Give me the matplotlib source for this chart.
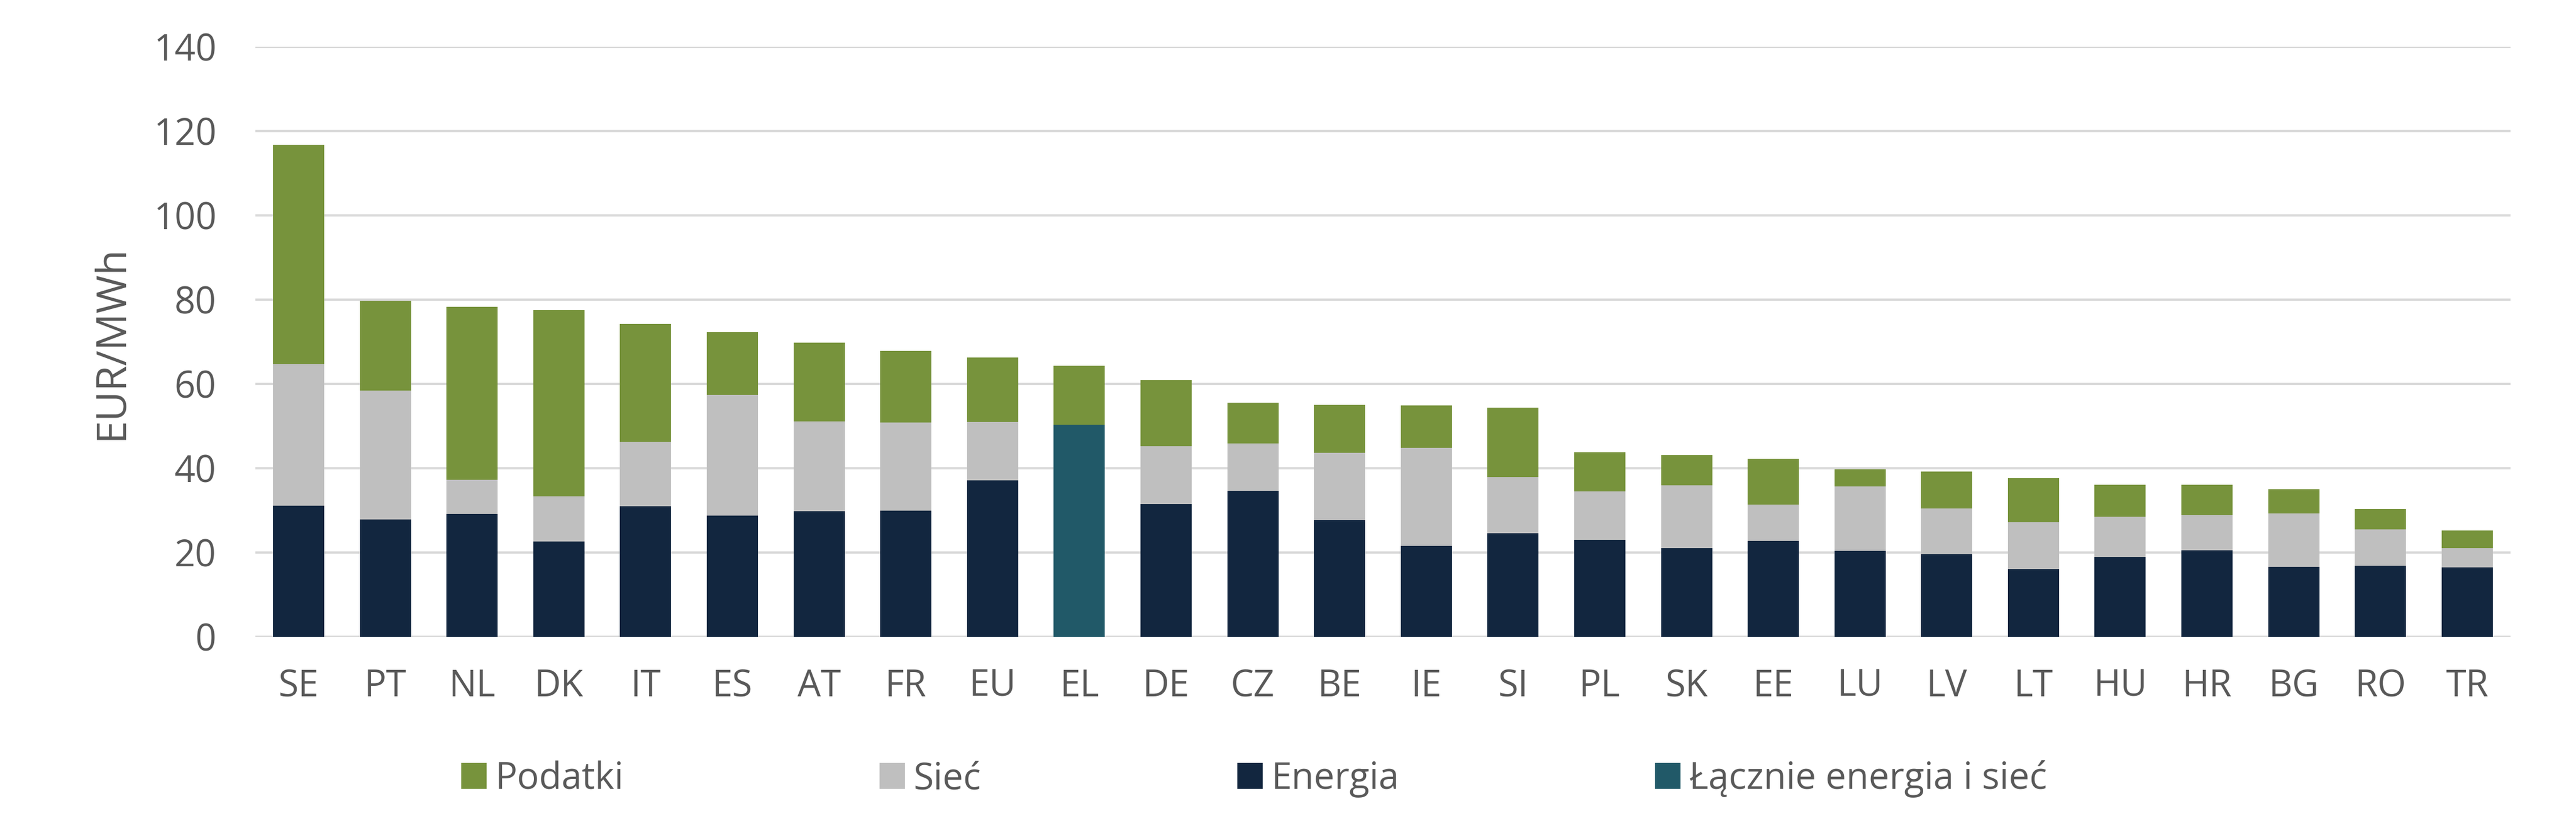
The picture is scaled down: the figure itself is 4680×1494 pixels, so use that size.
import matplotlib
matplotlib.use("Agg")
import matplotlib.pyplot as plt
from matplotlib.patches import Patch
import numpy as np

categories = ["SE", "PT", "NL", "DK", "IT", "ES", "AT", "FR", "EU", "EL", "DE", "CZ", "BE",
              "IE", "SI", "PL", "SK", "EE", "LU", "LV", "LT", "HU", "HR", "BG", "RO", "TR"]
energia = [31.1, 27.9, 29.2, 22.6, 31.0, 28.8, 29.8, 30.0, 37.1, 0.0, 31.5, 34.6, 27.7,
           21.6, 24.6, 23.0, 21.1, 22.7, 20.4, 19.6, 16.1, 19.0, 20.5, 16.6, 16.9, 16.5]
siec = [33.6, 30.6, 8.0, 10.8, 15.3, 28.6, 21.3, 20.8, 13.9, 0.0, 13.7, 11.3, 16.0,
        23.2, 13.3, 11.5, 14.8, 8.7, 15.3, 10.9, 11.1, 9.5, 8.4, 12.7, 8.6, 4.5]
podatki = [52.0, 21.2, 41.1, 44.1, 27.9, 14.9, 18.7, 17.0, 15.3, 14.0, 15.7, 9.7, 11.3,
           10.1, 16.5, 9.3, 7.2, 10.8, 4.0, 8.7, 10.4, 7.6, 7.2, 5.8, 4.8, 4.3]
laczne = [0.0] * 9 + [50.3] + [0.0] * 16

legend_labels = ["Podatki", "Sieć", "Energia", "Łącznie energia i sieć"]

c_pod = "#77933C"
c_siec = "#BFBFBF"
c_en = "#12263F"
c_lacz = "#215968"
txt = "#595959"

plt.rcParams['font.family'] = ['Open Sans', 'DejaVu Sans']

fig = plt.figure(figsize=(15.6, 4.98), dpi=300)
ax = fig.add_axes([0.0991, 0.2262, 0.8755, 0.7169])

x = np.arange(len(categories))
en = np.array(energia)
si = np.array(siec)
po = np.array(podatki)
la = np.array(laczne)
w = 0.59
ax.bar(x, en, w, color=c_en, zorder=3)
ax.bar(x, la, w, color=c_lacz, zorder=3)
base = en + la
ax.bar(x, si, w, bottom=base, color=c_siec, zorder=3)
ax.bar(x, po, w, bottom=base + si, color=c_pod, zorder=3)

ax.set_xlim(-0.5, len(categories) - 0.5)
ax.set_ylim(0, 140)
ax.set_yticks(np.arange(0, 141, 20))
ax.yaxis.grid(True, color="#D9D9D9", linewidth=1.0, zorder=0)
ax.set_axisbelow(True)
for s in ax.spines.values():
    s.set_visible(False)
ax.set_xticks(x)
ax.set_xticklabels(categories)
ax.tick_params(axis='both', length=0, labelsize=16, labelcolor=txt)
ax.tick_params(axis='y', pad=17)
ax.tick_params(axis='x', pad=13.5)

fig.text(0.0434, 0.584, "EUR/MWh", rotation=90, ha='center', va='center',
         fontsize=18, color=txt)

handles = [Patch(color=c_pod), Patch(color=c_siec), Patch(color=c_en), Patch(color=c_lacz)]
leg = fig.legend(handles, legend_labels, loc='center', bbox_to_anchor=(0.487, 0.0535),
                 ncol=4, frameon=False, fontsize=16, handlelength=0.63, handleheight=0.63,
                 handletextpad=0.27, columnspacing=7.0, labelcolor=txt)

fig.savefig("out.png", dpi=300)
